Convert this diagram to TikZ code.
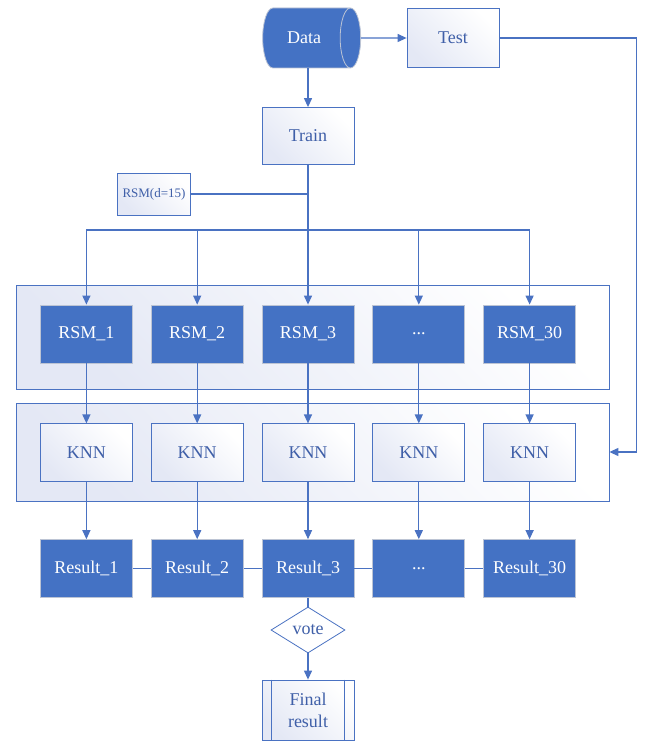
\documentclass[tikz,border=0pt]{standalone}
\usepackage{fontspec}
\setmainfont{Liberation Serif}
\usetikzlibrary{arrows.meta,positioning,shapes.geometric,calc}
\definecolor{Blue}{HTML}{4472C4}
\definecolor{LineBlue}{HTML}{4A72C2}
\definecolor{EdgeGray}{HTML}{BCC4D4}
\definecolor{TextBlue}{HTML}{3F5FA8}
\definecolor{Tint}{HTML}{E4E8F5}

\begin{document}
\begin{tikzpicture}[
  x=1pt, y=-1pt,
  node distance=60pt and 18pt,
  solid/.style={draw=EdgeGray, line width=0.8pt, fill=Blue, text=white, minimum width=92pt, minimum height=58pt, font=\fontsize{18}{21}\selectfont},
  plain/.style={draw=LineBlue, line width=0.8pt, left color=Tint, right color=white, shading angle=135, text=TextBlue, minimum width=92pt, minimum height=58pt, align=center, font=\fontsize{18}{21}\selectfont},
  panel/.style={draw=LineBlue, line width=0.8pt, left color=Tint, right color=white, shading angle=135, minimum width=593pt},
  arr/.style={-{Triangle[length=9pt, width=8pt]}, LineBlue, line width=1.2pt},
  link/.style={LineBlue, line width=1.2pt}
]
\useasboundingbox (0,0) rectangle (646,741);

% background panels
\node[panel, minimum height=104pt] (P1) at (312.5,337) {};
\node[panel, minimum height=98pt] (P2) at (312.5,452) {};

% top part
\node[cylinder, shape aspect=1.1, draw=EdgeGray, line width=0.8pt, fill=Blue, text=white,
      minimum width=60pt, minimum height=98pt, font=\fontsize{18}{21}\selectfont] (Data) at (304,38) {Data};
\node[plain, minimum height=59pt] (Test) at (453,38) {Test};
\node[plain, minimum height=57pt] (Train) at (308,136) {Train};
\node[plain, minimum width=73pt, minimum height=42pt, font=\fontsize{13}{15}\selectfont] (RSMd) at (154,194) {RSM(d=15)};

% subspaces
\node[solid] (R3) at (308,334) {RSM\_3};
\node[solid, left=of R3] (R2) {RSM\_2};
\node[solid, left=of R2] (R1) {RSM\_1};
\node[solid, right=of R3] (Rd) {...};
\node[solid, right=of Rd] (R30) {RSM\_30};

% classifiers
\node[plain, below=of R1] (K1) {KNN};
\node[plain, below=of R2] (K2) {KNN};
\node[plain, below=of R3] (K3) {KNN};
\node[plain, below=of Rd] (Kd) {KNN};
\node[plain, below=of R30] (K30) {KNN};

% results
\node[solid, below=57pt of K1] (S1) {Result\_1};
\node[solid, below=57pt of K2] (S2) {Result\_2};
\node[solid, below=57pt of K3] (S3) {Result\_3};
\node[solid, below=57pt of Kd] (Sd) {...};
\node[solid, below=57pt of K30] (S30) {Result\_30};

\node[diamond, draw=LineBlue, line width=0.8pt, fill=white, text=TextBlue, minimum width=74pt, minimum height=46pt,
      inner sep=1pt, font=\fontsize{18}{21}\selectfont] (Vote) at (308,630) {vote};
\node[plain, minimum height=60pt, font=\fontsize{18}{22}\selectfont] (Final) at (308,710) {Final\\result};
\draw[LineBlue, line width=0.8pt] ($(Final.north west)+(10,0)$) -- ($(Final.south west)+(10,0)$)
  ($(Final.north east)+(-10,0)$) -- ($(Final.south east)+(-10,0)$);

% connectors
\draw[arr] (Data.east) -- (Test.west);
\draw[arr] (Data.south -| Train.north) -- (Train.north);
\coordinate (Bus) at (308,230);
\draw[link] (Train.south) -- (Bus);
\draw[link] (RSMd.east) -- (Train.south |- RSMd.east);
\draw[link] (R1.north |- Bus) -- (R30.north |- Bus);
\draw[arr] (R1.north |- Bus) -- (R1.north);
\draw[arr] (R2.north |- Bus) -- (R2.north);
\draw[arr] (Bus) -- (R3.north);
\draw[arr] (Rd.north |- Bus) -- (Rd.north);
\draw[arr] (R30.north |- Bus) -- (R30.north);

\draw[arr] (R1) -- (K1);
\draw[arr] (R2) -- (K2);
\draw[arr] (R3) -- (K3);
\draw[arr] (Rd) -- (Kd);
\draw[arr] (R30) -- (K30);

\draw[arr] (K1) -- (S1);
\draw[arr] (K2) -- (S2);
\draw[arr] (K3) -- (S3);
\draw[arr] (Kd) -- (Sd);
\draw[arr] (K30) -- (S30);

\draw[link] (S1) -- (S2);
\draw[link] (S2) -- (S3);
\draw[link] (S3) -- (Sd);
\draw[link] (Sd) -- (S30);

\draw[link] (S3) -- (Vote);
\draw[arr] (Vote) -- (Final);
\draw[arr] (Test.east) -- ++(137,0) |- (P2.east);
\end{tikzpicture}
\end{document}
